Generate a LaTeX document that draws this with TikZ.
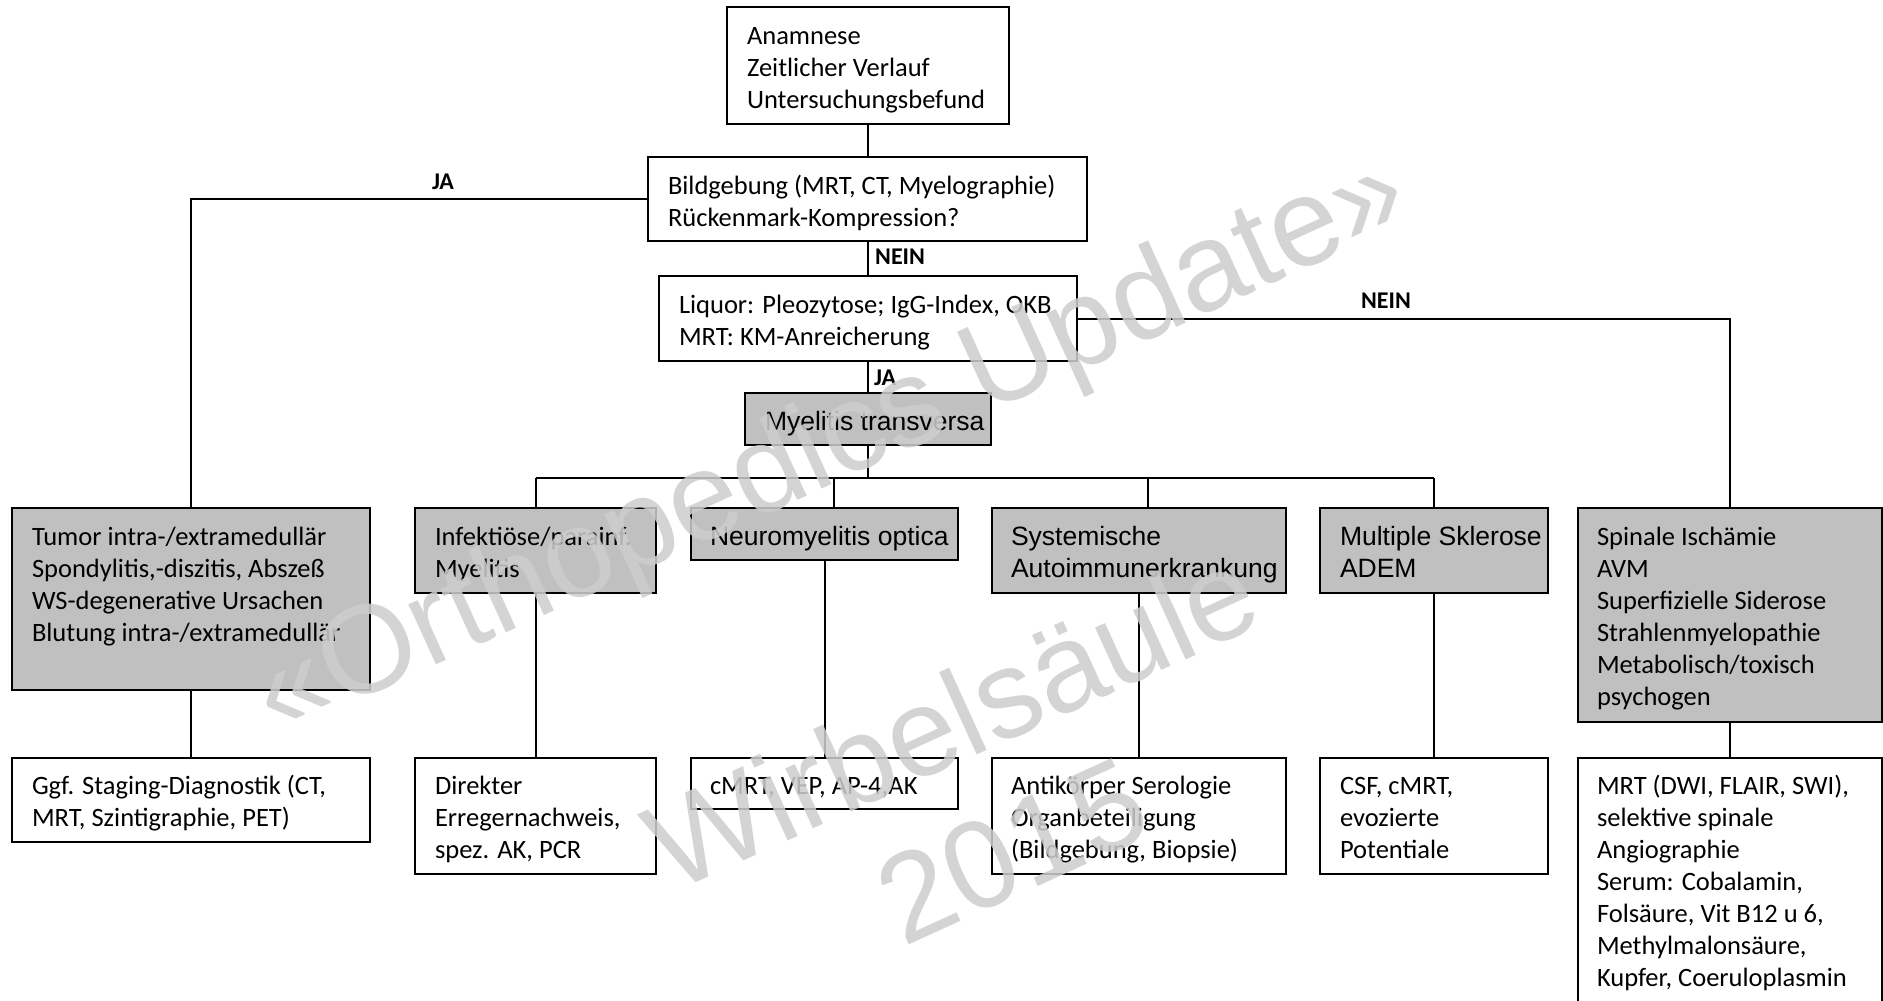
\documentclass[tikz,border=0pt]{standalone}
\usepackage{fontspec}
\setmainfont{Carlito}
\newfontfamily\arialf{Liberation Sans}
\usetikzlibrary{fit}
\definecolor{boxgray}{RGB}{192,192,192}
\definecolor{wmgray}{RGB}{205,205,205}
\newcommand{\tstr}{\rule{0pt}{23pt}}
\begin{document}
\begin{tikzpicture}[x=1pt,y=-1pt,
  wbox/.style={draw, line width=2.2pt, fill=white, inner sep=0pt, outer sep=0pt},
  gbox/.style={wbox, fill=boxgray},
  conn/.style={line width=2pt},
  txt/.style={inner sep=0pt, outer sep=0pt, align=left, anchor=north west,
              font=\fontsize{26.5}{32}\selectfont},
  atxt/.style={txt, font=\arialf\fontsize{26.5}{32}\selectfont},
  lbl/.style={inner sep=0pt, font=\bfseries\fontsize{24}{28}\selectfont},
  wm/.style={inner sep=0pt, anchor=base, rotate=24.5, text=wmgray, text opacity=0.86,
             font=\arialf\fontsize{125}{140}\selectfont}]
\useasboundingbox (0,0) rectangle (1883,1001);
\clip (0,0) rectangle (1883,1001);

% boxes
\node[wbox, fit={(727,7)(1009,124)}] (anam) {};
\node[wbox, fit={(648,157)(1087,241)}] (bild) {};
\node[wbox, fit={(659,276)(1077,361)}] (liq) {};
\node[gbox, fit={(745,393)(991,445)}] (myel) {};
\node[gbox, fit={(12,508)(370,690)}] (tumor) {};
\node[gbox, fit={(415,508)(656,593)}] (infekt) {};
\node[gbox, fit={(691,508)(958,560)}] (neuro) {};
\node[gbox, fit={(992,508)(1286,593)}] (syst) {};
\node[gbox, fit={(1320,508)(1548,593)}] (ms) {};
\node[gbox, fit={(1578,508)(1882,722)}] (spinal) {};
\node[wbox, fit={(12,758)(370,842)}] (staging) {};
\node[wbox, fit={(415,758)(656,874)}] (direkt) {};
\node[wbox, fit={(691,758)(958,809)}] (cmrt) {};
\node[wbox, fit={(992,758)(1286,874)}] (anti) {};
\node[wbox, fit={(1320,758)(1548,874)}] (csf) {};
\node[wbox, fit={(1578,758)(1882,1030)}] (mrt) {};

% texts
\node[txt] (tanam) at (747,21) {\tstr Anamnese\\Zeitlicher Verlauf\\Untersuchungsbefund};
\node[txt] (tbild) at (668,171) {\tstr Bildgebung (MRT, CT, Myelographie)\\Rückenmark-Kompression?};
\node[txt] (tliq) at (679,290) {\tstr Liquor: Pleozytose; IgG-Index, OKB\\MRT: KM-Anreicherung};
\node[atxt] (tmyel) at (765,407) {\tstr Myelitis transversa};
\node[txt] (ttumor) at (32,522) {\tstr Tumor intra-/extramedullär\\Spondylitis,-diszitis, Abszeß\\WS-degenerative Ursachen\\Blutung intra-/extramedullär};
\node[txt] (tinfekt) at (435,522) {\tstr Infektiöse/parainf.\\Myelitis};
\node[atxt] (tneuro) at (710,522) {\tstr Neuromyelitis optica};
\node[atxt] (tsyst) at (1011,522) {\tstr Systemische\\Autoimmunerkrankung};
\node[atxt] (tms) at (1340,522) {\tstr Multiple Sklerose\\ADEM};
\node[txt] (tspinal) at (1597,522) {\tstr Spinale Ischämie\\AVM\\Superfizielle Siderose\\Strahlenmyelopathie\\Metabolisch/toxisch\\psychogen};
\node[txt] (tstaging) at (32,771) {\tstr Ggf. Staging-Diagnostik (CT,\\MRT, Szintigraphie, PET)};
\node[txt] (tdirekt) at (435,771) {\tstr Direkter\\Erregernachweis,\\spez. AK, PCR};
\node[txt] (tcmrt) at (710,771) {\tstr cMRT, VEP, AP-4,AK};
\node[txt] (tanti) at (1011,771) {\tstr Antikörper Serologie\\Organbeteiligung\\(Bildgebung, Biopsie)};
\node[txt] (tcsf) at (1340,771) {\tstr CSF, cMRT,\\evozierte\\Potentiale};
\node[txt] (tmrt) at (1597,771) {\tstr MRT (DWI, FLAIR, SWI),\\selektive spinale\\Angiographie\\Serum: Cobalamin,\\Folsäure, Vit B12 u 6,\\Methylmalonsäure,\\Kupfer, Coeruloplasmin};

% connector coordinates
\coordinate (busL) at (535.5,478);
\coordinate (busR) at (1434,478);
\coordinate (bN) at (834,478);
\coordinate (bS) at (1148,478);

% connectors
\draw[conn] (anam.south) -- (anam.south |- bild.north);
\draw[conn] (bild.west) -- (tumor.north |- bild.west) -- (tumor.north);
\draw[conn] (bild.south) -- (bild.south |- liq.north);
\draw[conn] (liq.south) -- (liq.south |- myel.north);
\draw[conn] (liq.east) -- (spinal.north |- liq.east) -- (spinal.north);
\draw[conn] (myel.south) -- (myel.south |- busL);
\draw[conn] (busL) -- (busR);
\draw[conn] (busL) -- (infekt.north);
\draw[conn] (bN) -- (bN |- neuro.north);
\draw[conn] (bS) -- (bS |- syst.north);
\draw[conn] (busR) -- (ms.north);
\draw[conn] (tumor.south) -- (staging.north);
\draw[conn] (infekt.south) -- (direkt.north);
\draw[conn] (neuro.south) -- (cmrt.north);
\draw[conn] (syst.south) -- (anti.north);
\draw[conn] (ms.south) -- (csf.north);
\draw[conn] (spinal.south) -- (mrt.north);

% labels
\node[lbl] (lja1) at (443,182) {JA};
\node[lbl, anchor=west] (lnein1) at (875,257) {NEIN};
\node[lbl, anchor=west] (lja2) at (874,378) {JA};
\node[lbl] (lnein2) at (1386,301) {NEIN};

% watermark
\node[wm] (wm1) at (846,478) {«Orthopedics Update»};
\node[wm] (wm2) at (970,758) {Wirbelsäule};
\node[wm] (wm3) at (1030,890) {2015};
\end{tikzpicture}
\end{document}
